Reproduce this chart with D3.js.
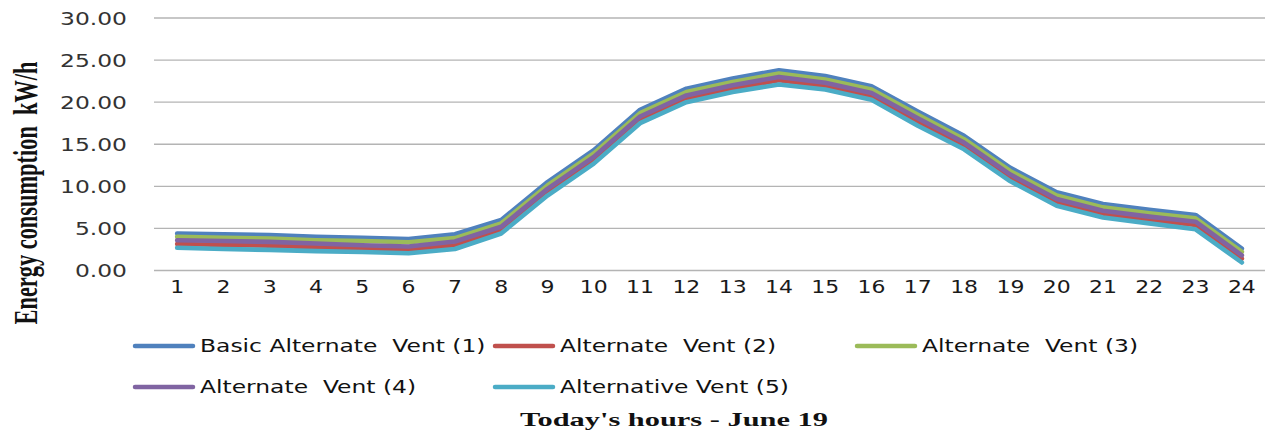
<!DOCTYPE html>
<html>
<head>
<meta charset="utf-8">
<script src="https://cdn.jsdelivr.net/npm/d3@7"></script>
<style>
  html, body { margin: 0; padding: 0; background: #fff; }
  svg { display: block; }
  text { white-space: pre; }
</style>
</head>
<body>
<svg id="chart" width="1267" height="434"></svg>
<script>
// Hours of the day (June 19)
const hours = d3.range(1, 25).map(String);

// Hourly energy consumption (kW/h) for each ventilation alternative
const basicVent1 = [4.40, 4.30, 4.20, 4.00, 3.90, 3.75, 4.30, 6.00, 10.50, 14.30, 19.10, 21.60,
                    22.80, 23.80, 23.10, 21.90, 18.90, 16.00, 12.20, 9.30, 7.90, 7.20, 6.60, 2.60];
const altVent2   = [3.15, 3.05, 2.95, 2.75, 2.60, 2.45, 3.00, 4.80, 9.30, 13.10, 17.90, 20.40,
                    21.60, 22.60, 21.90, 20.70, 17.70, 14.80, 11.00, 8.10, 6.70, 6.00, 5.40, 1.40];
const altVent3   = [4.00, 3.90, 3.80, 3.60, 3.50, 3.35, 3.85, 5.60, 10.10, 13.90, 18.70, 21.20,
                    22.40, 23.40, 22.70, 21.50, 18.50, 15.60, 11.80, 8.90, 7.50, 6.80, 6.20, 2.20];
const altVent4   = [3.60, 3.50, 3.40, 3.20, 3.00, 2.85, 3.45, 5.20, 9.70, 13.50, 18.30, 20.80,
                    22.00, 23.00, 22.30, 21.10, 18.10, 15.20, 11.40, 8.50, 7.10, 6.40, 5.80, 1.80];
const altVent5   = [2.70, 2.55, 2.45, 2.30, 2.20, 2.05, 2.55, 4.40, 8.90, 12.70, 17.50, 20.00,
                    21.20, 22.10, 21.50, 20.30, 17.20, 14.40, 10.60, 7.70, 6.30, 5.60, 4.90, 0.95];

const seriesNames = ["Basic Alternate  Vent (1)", "Alternate  Vent (2)", "Alternate  Vent (3)",
                     "Alternate  Vent (4)", "Alternative Vent (5)"];
const seriesColors = ["#4F81BD", "#C0504D", "#9BBB59", "#8064A2", "#4BACC6"];
const yTicks = [0, 5, 10, 15, 20, 25, 30];

const series = [basicVent1, altVent2, altVent3, altVent4, altVent5].map((values, i) => ({
  name: seriesNames[i], color: seriesColors[i], values
}));

const svg = d3.select("#chart");

const x = d3.scaleBand().domain(hours).range([154, 1265]).padding(0);
const y = d3.scaleLinear().domain([0, 30]).range([270.5, 18]);
const cx = h => x(h) + x.bandwidth() / 2;

// widen glyphs horizontally to the chart's typographic proportions
function stretch(sel, k) {
  sel.each(function () {
    const w = this.getComputedTextLength();
    d3.select(this).attr("textLength", w * k).attr("lengthAdjust", "spacingAndGlyphs");
  });
}

// horizontal gridlines
svg.append("g")
  .selectAll("line")
  .data(yTicks)
  .join("line")
  .attr("x1", 154).attr("x2", 1265)
  .attr("y1", d => y(d)).attr("y2", d => y(d))
  .attr("stroke", "#B4B4B4")
  .attr("stroke-width", 1.4);

// y axis labels
const yAxis = svg.append("g")
  .attr("transform", "translate(127,0)")
  .call(d3.axisLeft(y).tickValues(yTicks).tickFormat(d3.format(".2f")).tickSize(0).tickPadding(0));
yAxis.select(".domain").remove();
yAxis.selectAll("text")
  .attr("font-family", "DejaVu Sans, Verdana, sans-serif")
  .attr("font-size", 18)
  .attr("fill", "#333")
  .attr("dy", "0.36em")
  .call(stretch, 1.3);

// x axis labels
const xAxis = svg.append("g")
  .attr("transform", "translate(0,292)")
  .call(d3.axisBottom(x).tickSize(0).tickPadding(0));
xAxis.select(".domain").remove();
xAxis.selectAll("text")
  .attr("font-family", "DejaVu Sans, Verdana, sans-serif")
  .attr("font-size", 18)
  .attr("fill", "#1a1a1a")
  .attr("dy", "0.05em")
  .call(stretch, 1.22);

// series lines, first series drawn first
const line = d3.line()
  .x((d, i) => cx(hours[i]))
  .y(d => y(d));

svg.append("g")
  .selectAll("path")
  .data(series)
  .join("path")
  .attr("d", d => line(d.values))
  .attr("fill", "none")
  .attr("stroke", d => d.color)
  .attr("stroke-width", 4.6)
  .attr("stroke-linejoin", "round")
  .attr("stroke-linecap", "round");

// y axis title
svg.append("text")
  .attr("transform", "translate(37,193) scale(1.5,1) rotate(-90)")
  .attr("text-anchor", "middle")
  .attr("font-family", "Liberation Serif, Times New Roman, serif")
  .attr("font-weight", "bold")
  .attr("font-size", 22)
  .attr("fill", "#111")
  .attr("textLength", 263)
  .attr("lengthAdjust", "spacingAndGlyphs")
  .text("Energy consumption  kW/h");

// legend
const legendCols = [135, 495, 857];
const legendRows = [346, 387];
const legend = svg.append("g")
  .selectAll("g")
  .data(series)
  .join("g")
  .attr("transform", (d, i) => `translate(${legendCols[i % 3]},${legendRows[Math.floor(i / 3)]})`);

legend.append("line")
  .attr("x1", 0).attr("x2", 58)
  .attr("y1", 0).attr("y2", 0)
  .attr("stroke", d => d.color)
  .attr("stroke-width", 4.5)
  .attr("stroke-linecap", "round");

legend.append("text")
  .attr("x", 65)
  .attr("y", 0)
  .attr("dy", "0.36em")
  .attr("font-family", "DejaVu Sans, Verdana, sans-serif")
  .attr("font-size", 18)
  .attr("fill", "#111")
  .text(d => d.name)
  .call(stretch, 1.3);

// x axis title
svg.append("text")
  .attr("x", 674)
  .attr("y", 426)
  .attr("text-anchor", "middle")
  .attr("font-family", "Liberation Serif, Times New Roman, serif")
  .attr("font-weight", "bold")
  .attr("font-size", 19)
  .attr("fill", "#111")
  .attr("textLength", 308)
  .attr("lengthAdjust", "spacingAndGlyphs")
  .text("Today's hours - June 19");
</script>
</body>
</html>
